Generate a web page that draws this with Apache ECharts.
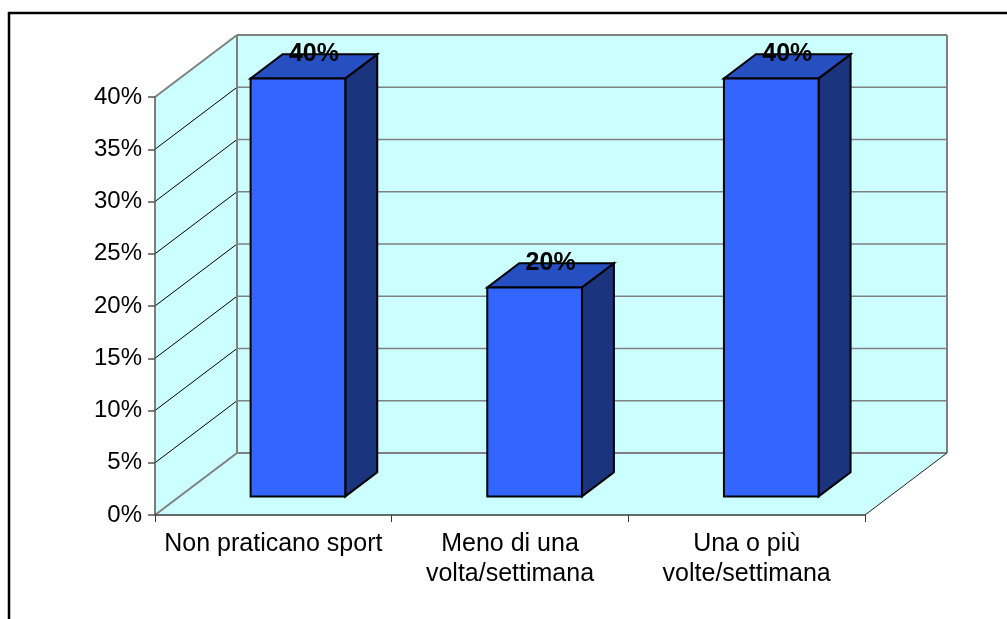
<!DOCTYPE html>
<html>
<head>
<meta charset="utf-8">
<title>Pratica sportiva</title>
<script src="https://cdn.jsdelivr.net/npm/echarts@6/dist/echarts.min.js"></script>
<style>
  html, body { margin: 0; padding: 0; background: #fff; }
  #chart { width: 1007px; height: 619px; }
</style>
</head>
<body>
<div id="chart"></div>
<script>
// Data
const categories = ['Non praticano sport', 'Meno di una\nvolta/settimana', 'Una o più\nvolte/settimana'];
const percentages = [40, 20, 40];
const yTicks = [0, 5, 10, 15, 20, 25, 30, 35, 40];

// 3D projection of the box: full depth offset and the slab the bars occupy
const DEPTH_DX = 82;
const DEPTH_DY = -62;
const BAR_FRONT = 0.3;
const BAR_BACK = 0.69;
const BAR_RATIO = 0.4;

const FONT = 'Liberation Sans, Arial, sans-serif';
const WALL = '#CCFFFF';
const GRID_GRAY = '#808080';

const yMin = yTicks[0];
const yMax = yTicks[yTicks.length - 1];

const chart = echarts.init(document.getElementById('chart'), null, { renderer: 'canvas' });

// Walls, floor, gridlines of the box
function renderWalls(params, api) {
  const band = api.size([1, 0])[0];
  const left = api.coord([0, yMin])[0] - band / 2;
  const right = left + band * categories.length;
  const yBase = api.coord([0, yMin])[1];
  const yTop = api.coord([0, yMax])[1];
  const children = [];
  const dx = DEPTH_DX, dy = DEPTH_DY;

  // side wall
  children.push({ type: 'polygon', shape: { points: [[left, yBase], [left, yTop], [left + dx, yTop + dy], [left + dx, yBase + dy]] },
    style: { fill: WALL, stroke: null } });
  // back wall
  children.push({ type: 'polygon', shape: { points: [[left + dx, yTop + dy], [right + dx, yTop + dy], [right + dx, yBase + dy], [left + dx, yBase + dy]] },
    style: { fill: WALL, stroke: null } });
  // floor
  children.push({ type: 'polygon', shape: { points: [[left, yBase], [left + dx, yBase + dy], [right + dx, yBase + dy], [right, yBase]] },
    style: { fill: WALL, stroke: null } });

  yTicks.forEach(function (t) {
    const y = api.coord([0, t])[1];
    const edge = (t === yMin || t === yMax);
    // back-wall gridline
    children.push({ type: 'line', shape: { x1: left + dx, y1: y + dy, x2: right + dx, y2: y + dy },
      style: { stroke: GRID_GRAY, lineWidth: edge ? 2 : 1.6 } });
    // side-wall gridline
    children.push({ type: 'line', shape: { x1: left, y1: y, x2: left + dx, y2: y + dy },
      style: { stroke: edge ? GRID_GRAY : '#000', lineWidth: edge ? 2 : 1 } });
  });
  // back wall vertical edges
  children.push({ type: 'line', shape: { x1: left + dx, y1: yTop + dy, x2: left + dx, y2: yBase + dy },
    style: { stroke: GRID_GRAY, lineWidth: 2 } });
  children.push({ type: 'line', shape: { x1: right + dx, y1: yTop + dy, x2: right + dx, y2: yBase + dy },
    style: { stroke: GRID_GRAY, lineWidth: 2 } });
  // floor right edge
  children.push({ type: 'line', shape: { x1: right, y1: yBase, x2: right + dx, y2: yBase + dy },
    style: { stroke: '#222', lineWidth: 1 } });

  return { type: 'group', children: children };
}

// 3D bars with value labels on top
function renderBar(params, api) {
  const idx = api.value(0);
  const val = api.value(1);
  const band = api.size([1, 0])[0];
  const w = band * BAR_RATIO;
  const cx = api.coord([idx, val])[0];
  const yv = api.coord([idx, val])[1];
  const y0 = api.coord([idx, yMin])[1];

  const xL = cx - w / 2 + BAR_FRONT * DEPTH_DX;
  const xR = xL + w;
  const yT = yv + BAR_FRONT * DEPTH_DY;
  const yB = y0 + BAR_FRONT * DEPTH_DY;
  const ddx = (BAR_BACK - BAR_FRONT) * DEPTH_DX;
  const ddy = (BAR_BACK - BAR_FRONT) * DEPTH_DY;

  const edge = { stroke: '#000', lineWidth: 2, lineJoin: 'miter' };
  return {
    type: 'group',
    children: [
      { type: 'polygon', shape: { points: [[xR, yT], [xR + ddx, yT + ddy], [xR + ddx, yB + ddy], [xR, yB]] },
        style: Object.assign({ fill: '#1A347E' }, edge) },
      { type: 'polygon', shape: { points: [[xL, yT], [xR, yT], [xR + ddx, yT + ddy], [xL + ddx, yT + ddy]] },
        style: Object.assign({ fill: '#2650C2' }, edge) },
      { type: 'rect', shape: { x: xL, y: yT, width: w, height: yB - yT },
        style: Object.assign({ fill: '#3366FF' }, edge) },
      { type: 'text', z2: 10,
        style: { text: val + '%', x: (xL + xR + ddx) / 2, y: yT + ddy,
          align: 'center', verticalAlign: 'middle',
          fontFamily: FONT, fontSize: 25, fontWeight: 'bold', fill: '#000' } }
    ]
  };
}

chart.setOption({
  animation: false,
  backgroundColor: '#fff',
  graphic: [{
    type: 'rect', z: 100,
    shape: { x: 9, y: 13, width: 1010, height: 620 },
    style: { fill: null, stroke: '#000', lineWidth: 2.5 }
  }],
  grid: { left: 155, right: 142, top: 97, bottom: 104, containLabel: false },
  xAxis: {
    type: 'category',
    data: categories,
    z: 5,
    axisLine: { show: true, lineStyle: { color: '#3a3a3a', width: 1.5 } },
    axisTick: { show: true, length: 7, inside: false, lineStyle: { color: '#3a3a3a', width: 1 } },
    axisLabel: { color: '#000', fontSize: 25, fontFamily: FONT, margin: 14, lineHeight: 30, interval: 0 },
    splitLine: { show: false }
  },
  yAxis: {
    type: 'value',
    min: yMin, max: yMax, interval: 5,
    z: 5,
    axisLine: { show: true, lineStyle: { color: '#555', width: 1.5 } },
    axisTick: { show: true, length: 7, lineStyle: { color: '#555', width: 1.5 } },
    axisLabel: { color: '#000', fontSize: 24, fontFamily: FONT, margin: 13, formatter: '{value}%' },
    splitLine: { show: false }
  },
  series: [
    {
      type: 'custom', name: 'walls', clip: false, z: 1, silent: true,
      renderItem: renderWalls,
      data: [[0, 0]]
    },
    {
      type: 'custom', name: 'Percentuale', clip: false, z: 3,
      renderItem: renderBar,
      encode: { x: 0, y: 1 },
      data: percentages.map(function (v, i) { return [i, v]; })
    }
  ]
});
</script>
</body>
</html>
